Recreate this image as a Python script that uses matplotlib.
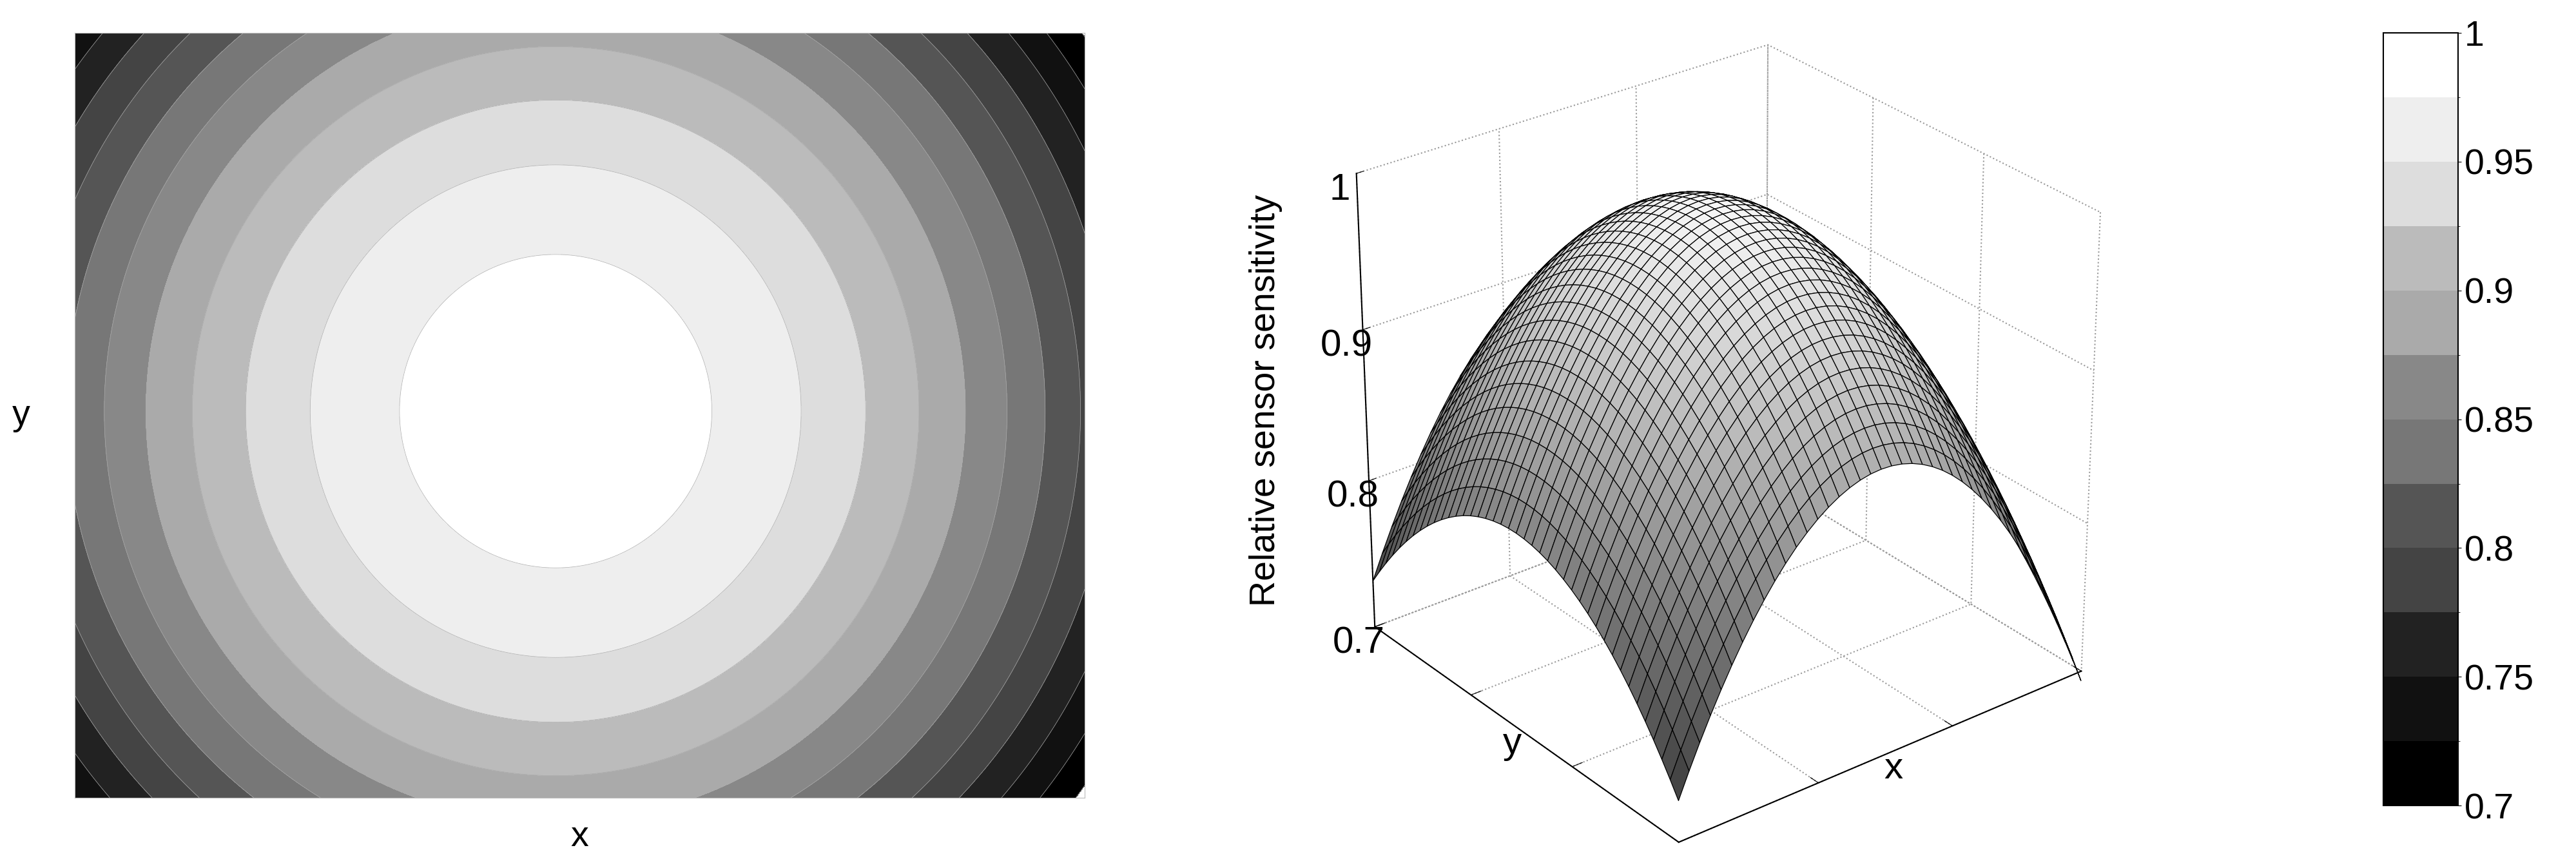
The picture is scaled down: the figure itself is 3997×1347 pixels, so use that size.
import numpy as np
import matplotlib
import matplotlib.pyplot as plt
from matplotlib.colors import ListedColormap, BoundaryNorm

# sensitivity model (pixel units of the reference)
peak = 0.992
step = 0.025          # drop per ring
ring_area = 87000.0   # r^2 increase per ring
x_edges = [-749, 824]
y_edges = [-600, 587]
levels = np.arange(0.7, 1.0001, 0.025)
band_grays = ['#000000', '#111111', '#222222', '#444444', '#555555', '#777777',
              '#888888', '#aaaaaa', '#bbbbbb', '#dddddd', '#eeeeee', '#ffffff']
cbar_ticks = [0.7, 0.75, 0.8, 0.85, 0.9, 0.95, 1.0]
z_ticks = [0.7, 0.8, 0.9, 1.0]

def sens(x, y):
    return peak - step * (x**2 + y**2) / ring_area

cmap = ListedColormap(band_grays)
norm = BoundaryNorm(levels, cmap.N)

plt.rcParams['font.family'] = ['Liberation Sans', 'DejaVu Sans']
fig = plt.figure(figsize=(39.98, 13.47), dpi=100)

# left: filled contour map
xs = np.linspace(x_edges[0], x_edges[1], 400)
ys = np.linspace(y_edges[0], y_edges[1], 300)
X, Y = np.meshgrid(xs, ys)
Z = sens(X, Y)
ax1 = fig.add_axes([0.029, 0.081, 0.392, 0.881])
cf = ax1.contourf(X, Y, Z, levels=levels, cmap=cmap, norm=norm)
ax1.contour(X, Y, Z, levels=levels, colors='#aaaaaa', linewidths=0.5)
ax1.set_xticks([])
ax1.set_yticks([])
for s in ax1.spines.values():
    s.set_color('#bbbbbb')
ax1.set_xlabel('x', fontsize=40, labelpad=25)
ax1.set_ylabel('y', fontsize=40, rotation=0, labelpad=60, va='center')

# middle: 3D surface
xs3 = np.linspace(x_edges[0], x_edges[1], 41)
ys3 = np.linspace(y_edges[0], y_edges[1], 41)
X3, Y3 = np.meshgrid(xs3, ys3)
Z3 = sens(X3, Y3)
ax2 = fig.add_axes([0.465, -0.005, 0.40, 1.0], projection='3d')
shade = np.clip(0.2 + 0.78 * (Z3 - 0.7) / 0.3, 0, 1)
ax2.plot_surface(X3, Y3, Z3, facecolors=plt.cm.gray(shade),
                 edgecolor='black', linewidth=0.9, shade=False, antialiased=True)
ax2.set_zlim(0.7, 1.0)
ax2.set_xlim(x_edges)
ax2.set_ylim(y_edges)
ax2.set_zticks(z_ticks)
ax2.set_zticklabels(['0.7', '0.8', '0.9', '1'], fontsize=42)
ax2.set_xticks(np.linspace(x_edges[0], x_edges[1], 4))
ax2.set_yticks(np.linspace(y_edges[0], y_edges[1], 4))
ax2.set_xticklabels([])
ax2.set_yticklabels([])
ax2.set_xlabel('x', fontsize=42, labelpad=-10)
ax2.set_ylabel('y', fontsize=42, labelpad=-10)
ax2.zaxis.set_rotate_label(False)
ax2.set_zlabel('Relative sensor sensitivity', fontsize=40, labelpad=50, rotation=90)
ax2.view_init(elev=28, azim=-128)
for a in (ax2.xaxis, ax2.yaxis, ax2.zaxis):
    a.set_pane_color((1, 1, 1, 0))
    a._axinfo['grid'].update(color='#999999', linestyle=':', linewidth=1.5)
    a._axinfo['tick'].update(inward_factor=0.0, outward_factor=0.3)
    a.line.set_linewidth(1.5)
ax2.zaxis._axinfo['tick'].update(inward_factor=0.0, outward_factor=0.2)
ax2.set_box_aspect((1, 1, 1.0))

# right: colorbar
cax = fig.add_axes([0.925, 0.072, 0.029, 0.89])
cb = fig.colorbar(cf, cax=cax, ticks=cbar_ticks)
cb.ax.set_yticklabels(['0.7', '0.75', '0.8', '0.85', '0.9', '0.95', '1'], fontsize=40)
cb.outline.set_linewidth(1.5)

fig.savefig('out.png', dpi=100, facecolor='white')
